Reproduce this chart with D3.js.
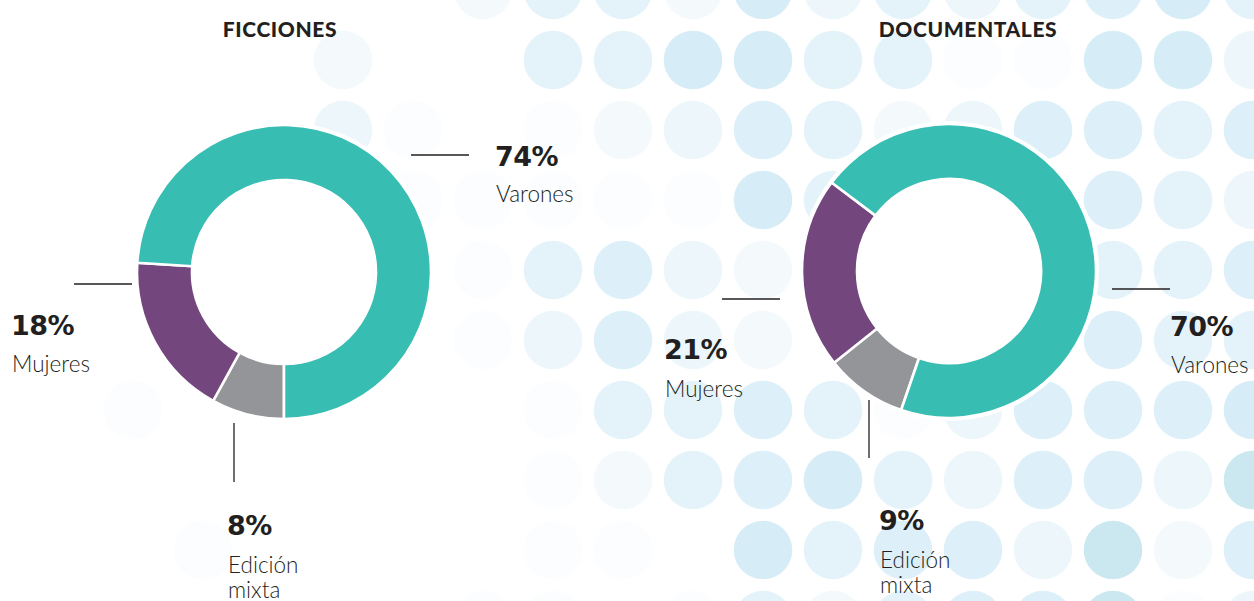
<!DOCTYPE html>
<html>
<head>
<meta charset="utf-8">
<script src="https://cdn.jsdelivr.net/npm/d3@7"></script>
<style>
  html, body { margin: 0; padding: 0; background: #ffffff; }
  svg { display: block; }
</style>
</head>
<body>
<svg id="chart" width="1254" height="601"></svg>
<script>
// ---------------- DATA ----------------
const chartTitles = ["FICCIONES", "DOCUMENTALES"];
const categories = ["Edición mixta", "Mujeres", "Varones"];
const ficcionesValues = [8, 18, 74];
const documentalesValues = [9, 21, 70];

// Decorative background dot shades (0 = no dot, 7 = darkest), one string per row
const dotRows = [
  "0000000244263434564",
  "0000020044664411663",
  "0000031012354235545",
  "0000021111164000543",
  "0000000145320000445",
  "0000000135320000544",
  "0010000014454135556",
  "0000000012456435537",
  "0001000011064553725",
  "0000000110142455713"
];

// ---------------- LAYOUT / STYLE ----------------
const colors = { "Edición mixta": "#939598", "Mujeres": "#73467e", "Varones": "#37bdb1" };
const dotShades = [null, "#fbfdfe", "#f4fafc", "#ecf6fb", "#e4f3fa", "#ddf0f9", "#d6edf7", "#cbe8f1"];
const ink = "#231f20";

const charts = [
  {
    title: chartTitles[0], values: ficcionesValues, cx: 284, cy: 272, start: 180, titleX: 280,
    labels: {
      "Varones":       { line: [[411,155],[469,155]], x: 495, pctY: 166, nameY: [202] },
      "Mujeres":       { line: [[74,284],[132,284]],  x: 11,  pctY: 335, nameY: [372] },
      "Edición mixta": { line: [[234,423],[234,482]], x: 227, pctY: 535, nameY: [573, 598] }
    }
  },
  {
    title: chartTitles[1], values: documentalesValues, cx: 949, cy: 271, start: 199, titleX: 968,
    labels: {
      "Varones":       { line: [[1112,289],[1170,289]], x: 1170, pctY: 336, nameY: [373] },
      "Mujeres":       { line: [[722,299],[780,299]],   x: 664,  pctY: 359, nameY: [397] },
      "Edición mixta": { line: [[869,400],[869,458]],   x: 879,  pctY: 530, nameY: [568, 593] }
    }
  }
];

const svg = d3.select("#chart");

// background dots
const colX = d3.scaleLinear().domain([0, 18]).range([-7, 1253]);
const rowY = d3.scaleLinear().domain([0, 9]).range([-10, 620]);
const dots = [];
dotRows.forEach((row, j) => {
  row.split("").forEach((c, i) => {
    const lv = +c;
    if (lv > 0) dots.push({ i, j, lv });
  });
});
svg.append("g").selectAll("circle").data(dots).join("circle")
  .attr("cx", d => colX(d.i))
  .attr("cy", d => rowY(d.j))
  .attr("r", 29.3)
  .attr("fill", d => dotShades[d.lv]);

const outerR = 147, innerR = 92;
const arc = d3.arc().innerRadius(innerR).outerRadius(outerR);

charts.forEach(ch => {
  const g = svg.append("g").attr("transform", `translate(${ch.cx},${ch.cy})`);
  // white backing disc (hole + halo)
  g.append("circle").attr("r", outerR + 3).attr("fill", "#ffffff");
  const a0 = ch.start * Math.PI / 180;
  const pie = d3.pie().sort(null).value(d => d.v).startAngle(a0).endAngle(a0 + 2 * Math.PI);
  const arcs = pie(categories.map((c, k) => ({ cat: c, v: ch.values[k] })));
  g.selectAll("path").data(arcs).join("path")
    .attr("d", arc)
    .attr("fill", d => colors[d.data.cat])
    .attr("stroke", "#ffffff")
    .attr("stroke-width", 2.6)
    .attr("stroke-linejoin", "miter");

  // title
  svg.append("text")
    .attr("x", ch.titleX).attr("y", 37)
    .attr("text-anchor", "middle")
    .attr("font-family", "Lato, 'Open Sans', sans-serif")
    .attr("font-weight", 900)
    .attr("font-size", 21)
    .attr("letter-spacing", 0.6)
    .attr("fill", ink)
    .text(ch.title);

  // labels
  categories.forEach((c, k) => {
    const L = ch.labels[c];
    svg.append("line")
      .attr("x1", L.line[0][0]).attr("y1", L.line[0][1])
      .attr("x2", L.line[1][0]).attr("y2", L.line[1][1])
      .attr("stroke", ink).attr("stroke-width", 1.3);
    svg.append("text")
      .attr("x", L.x).attr("y", L.pctY)
      .attr("font-family", "'DejaVu Sans', sans-serif")
      .attr("font-weight", 700)
      .attr("font-size", 27)
      .attr("letter-spacing", -0.5)
      .attr("fill", ink)
      .text(ch.values[k] + "%");
    const words = c === "Edición mixta" ? ["Edición", "mixta"] : [c];
    words.forEach((w, m) => {
      svg.append("text")
        .attr("x", L.x + 1).attr("y", L.nameY[m])
        .attr("font-family", "Lato, 'Open Sans', sans-serif")
        .attr("font-weight", 300)
        .attr("font-size", 22.5)
        .attr("fill", ink)
        .text(w);
    });
  });
});
</script>
</body>
</html>
